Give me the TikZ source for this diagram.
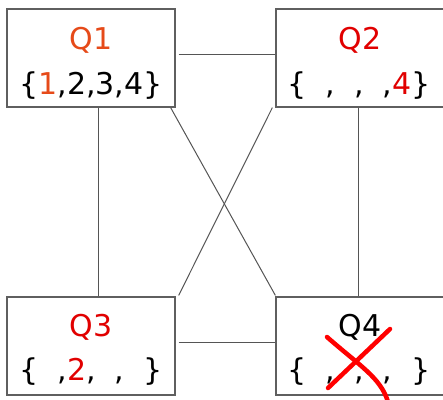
\documentclass[tikz,border=0pt]{standalone}
\usepackage{fontspec}
\setmainfont{DejaVu Sans}
\usepackage{xcolor}
\usetikzlibrary{positioning}
\definecolor{qone}{HTML}{E64A19}
\definecolor{qred}{HTML}{E10000}
\definecolor{frame}{HTML}{5F5F5F}
\definecolor{wire}{HTML}{555555}

\begin{document}
\begin{tikzpicture}[x=1pt, y=-1pt,
  quad/.style={draw=frame, line width=1.3pt, minimum width=168pt, minimum height=98pt, inner sep=0pt},
  ttl/.style={font=\fontsize{30}{36}\selectfont, anchor=base, inner sep=0pt},
  link/.style={wire, line width=1pt},
  cross/.style={red, line width=4.5pt, line cap=round}]
  \useasboundingbox (0,0) rectangle (443,399);
  \clip (0,0) rectangle (443,399);
  \fill[white] (0,0) rectangle (443,399);
  \node[quad] (q1) at (91,58) {};
  \node[quad] (q2) at (360,58) {};
  \node[quad] (q3) at (91,346) {};
  \node[quad] (q4) at (360,346) {};
  % titles and sets
  \node[ttl, text=qone] (q1t) at ([yshift=9pt]q1.center) {Q1};
  \node[ttl] (q1s) at ([yshift=-36pt]q1.center) {\{\textcolor{qone}{1},2,3,4\}};
  \node[ttl, text=qred] (q2t) at ([yshift=9pt]q2.center) {Q2};
  \node[ttl] (q2s) at ([xshift=-1pt,yshift=-36pt]q2.center) {\{\phantom{1},\phantom{2},\phantom{3},\textcolor{qred}{4}\}};
  \node[ttl, text=qred] (q3t) at ([yshift=10pt]q3.center) {Q3};
  \node[ttl] (q3s) at ([yshift=-34pt]q3.center) {\{\phantom{1},\textcolor{qred}{2},\phantom{3},\phantom{4}\}};
  \node[ttl] (q4t) at ([yshift=10pt]q4.center) {Q4};
  \node[ttl] (q4s) at ([xshift=-1pt,yshift=-34pt]q4.center) {\{\phantom{1},\phantom{2},\phantom{3},\phantom{4}\}};
  % links
  \draw[link] ([xshift=3pt,yshift=4pt]q1.east) -- ([yshift=4pt]q2.west);
  \draw[link] ([xshift=3pt,yshift=4pt]q3.east) -- ([yshift=4pt]q4.west);
  \draw[link] ([xshift=7pt]q1.south) -- ([xshift=7pt]q3.north);
  \draw[link] ([xshift=-2pt]q2.south) -- ([xshift=-2pt]q4.north);
  \draw[link] ([xshift=-5pt]q1.south east) -- ([yshift=1pt]q4.north west);
  \draw[link] ([xshift=-3pt]q2.south west) -- ([xshift=3pt,yshift=1pt]q3.north east);
  % crossed out
  \draw[cross] (390,329) -- (328,388);
  \draw[cross] (327,337) .. controls (360,366) and (381,378) .. (388,402);
\end{tikzpicture}
\end{document}
